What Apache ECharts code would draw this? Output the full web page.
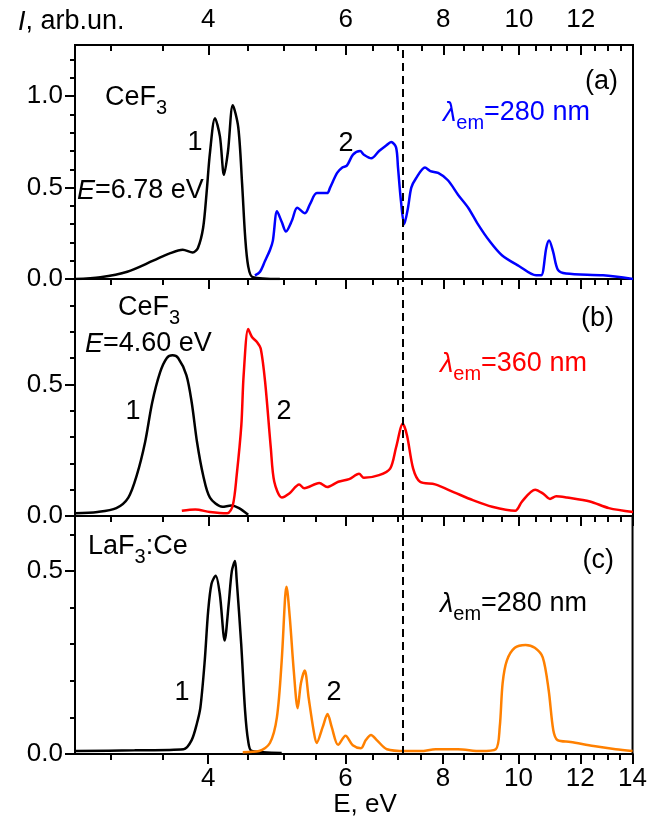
<!DOCTYPE html>
<html><head><meta charset="utf-8">
<script src="https://cdn.jsdelivr.net/npm/echarts@6/dist/echarts.min.js"></script>
<style>html,body{margin:0;padding:0;background:#fff}#c{width:650px;height:820px}</style>
</head><body><div id="c"></div>
<script>
// ---- axis definitions (energy in eV, log-scaled axis) ----
const xMinE = 2.7, xMaxE = 14;
const bottomLabelsE = [4, 6, 8, 10, 12, 14];
const topLabelsE = [4, 6, 8, 10, 12];
const majorTicksE = [4, 6, 8, 10, 12, 14];
const minorTicksE = [3, 3.5, 4.5, 5, 5.5, 6.5, 7, 7.5, 8.5, 9, 9.5, 10.5, 11, 11.5, 12.5, 13, 13.5];
const dashedLineE = 7.1;

const yMaxA = 1.28, yMaxB = 0.9, yMaxC = 0.65;
const yMajorA = [0, 0.5, 1.0], yMinorA = [0.1, 0.2, 0.3, 0.4, 0.6, 0.7, 0.8, 0.9, 1.1, 1.2];
const yMajorB = [0, 0.5], yMinorB = [0.1, 0.2, 0.3, 0.4, 0.6, 0.7, 0.8];
const yMajorC = [0, 0.5], yMinorC = [0.1, 0.2, 0.3, 0.4, 0.6];

// ---- data: [E (eV), intensity] ----
const aCurve1 = [[2.70,0.0],[2.91,0.01],[3.15,0.04],[3.40,0.10],[3.57,0.14],[3.71,0.16],[3.82,0.145],[3.88,0.17],[3.94,0.28],[3.98,0.47],[4.02,0.69],[4.08,0.88],[4.14,0.78],[4.19,0.57],[4.24,0.70],[4.30,0.95],[4.37,0.83],[4.42,0.52],[4.46,0.23],[4.50,0.07],[4.56,0.01],[4.94,0.0]];
const aCurve2 = [[4.59,0.02],[4.66,0.04],[4.73,0.10],[4.80,0.16],[4.84,0.21],[4.90,0.37],[4.97,0.31],[5.03,0.26],[5.12,0.32],[5.20,0.39],[5.32,0.36],[5.40,0.41],[5.51,0.47],[5.68,0.47],[5.73,0.50],[5.85,0.58],[5.94,0.61],[6.02,0.62],[6.13,0.68],[6.26,0.70],[6.33,0.68],[6.47,0.66],[6.62,0.70],[6.76,0.73],[6.86,0.75],[6.96,0.72],[7.00,0.61],[7.06,0.43],[7.13,0.30],[7.21,0.39],[7.28,0.50],[7.38,0.55],[7.58,0.61],[7.70,0.59],[7.88,0.58],[8.11,0.54],[8.36,0.46],[8.61,0.39],[8.86,0.30],[9.16,0.21],[9.51,0.13],[10.01,0.07],[10.52,0.02],[10.68,0.02],[10.84,0.17],[10.93,0.21],[11.06,0.15],[11.22,0.05],[11.49,0.03],[12.82,0.02],[14.0,0.0]];
const bCurve1 = [[2.70,0.01],[2.885,0.015],[3.05,0.03],[3.16,0.07],[3.24,0.155],[3.32,0.28],[3.39,0.43],[3.47,0.545],[3.54,0.60],[3.60,0.61],[3.66,0.60],[3.75,0.535],[3.81,0.43],[3.87,0.28],[3.94,0.155],[4.02,0.07],[4.17,0.035],[4.28,0.04],[4.38,0.03],[4.50,0.005]];
const bCurve2 = [[3.70,0.02],[3.85,0.025],[4.02,0.015],[4.23,0.01],[4.30,0.04],[4.35,0.155],[4.41,0.345],[4.44,0.535],[4.50,0.71],[4.55,0.68],[4.62,0.66],[4.67,0.635],[4.73,0.51],[4.81,0.26],[4.86,0.13],[4.97,0.07],[5.08,0.085],[5.23,0.12],[5.31,0.105],[5.55,0.125],[5.68,0.11],[5.87,0.13],[6.06,0.14],[6.24,0.16],[6.33,0.145],[6.62,0.155],[6.84,0.18],[6.96,0.26],[7.10,0.35],[7.19,0.305],[7.32,0.18],[7.47,0.13],[7.81,0.12],[8.26,0.09],[8.73,0.06],[9.24,0.035],[9.89,0.02],[10.09,0.055],[10.49,0.10],[10.74,0.085],[10.96,0.065],[11.16,0.075],[11.52,0.07],[12.33,0.055],[13.04,0.03],[14.0,0.015]];
const cCurve1 = [[2.70,0.008],[3.22,0.01],[3.72,0.013],[3.81,0.038],[3.87,0.084],[3.91,0.128],[3.96,0.255],[4.00,0.39],[4.04,0.465],[4.09,0.487],[4.14,0.437],[4.20,0.31],[4.25,0.41],[4.29,0.50],[4.33,0.527],[4.35,0.48],[4.41,0.30],[4.46,0.12],[4.50,0.038],[4.55,0.008],[4.97,0.003]];
const cCurve2 = [[4.43,0.005],[4.65,0.008],[4.80,0.03],[4.90,0.10],[4.97,0.255],[5.02,0.427],[5.04,0.457],[5.09,0.373],[5.15,0.228],[5.21,0.125],[5.26,0.193],[5.32,0.228],[5.38,0.155],[5.46,0.065],[5.51,0.03],[5.61,0.074],[5.69,0.109],[5.76,0.074],[5.87,0.025],[6.00,0.05],[6.13,0.024],[6.28,0.016],[6.37,0.038],[6.47,0.052],[6.58,0.038],[6.78,0.013],[7.17,0.008],[7.49,0.008],[7.83,0.013],[8.36,0.013],[8.94,0.008],[9.35,0.013],[9.46,0.074],[9.54,0.193],[9.66,0.255],[9.89,0.29],[10.21,0.298],[10.49,0.29],[10.74,0.264],[10.93,0.174],[11.08,0.065],[11.22,0.038],[11.66,0.033],[12.48,0.022],[13.32,0.013],[14.0,0.008]];

// ---- build chart ----
const FONT = '"Liberation Sans", Arial, sans-serif';
const AX = 26, TX = 27, SUB = 20;
const L = Math.log;
const chart = echarts.init(document.getElementById('c'));

const grids = [
  {left: 75, right: 17, top: 45, height: 234},
  {left: 75, right: 17, top: 279, height: 237},
  {left: 75, right: 17, top: 516, height: 238}
].map(g => Object.assign(g, {show: true, borderColor: '#000', borderWidth: 2, backgroundColor: 'transparent'}));

function xAx(gridIndex, position, ticksE, len, inside, labelsE) {
  return {
    type: 'value', gridIndex, position, offset: 0, min: L(xMinE), max: L(xMaxE),
    axisLine: {show: true, lineStyle: {color: '#000', width: 2}},
    axisTick: {show: true, inside, length: len, lineStyle: {color: '#000', width: 2}, customValues: ticksE.map(L)},
    axisLabel: labelsE ? {show: true, customValues: labelsE.map(L), formatter: v => String(Math.round(Math.exp(v))),
      color: '#000', fontSize: AX, fontFamily: FONT, margin: 12} : {show: false},
    splitLine: {show: false}
  };
}
function yAx(gridIndex, max, ticks, len, labels) {
  return {
    type: 'value', gridIndex, position: 'left', offset: 0, min: 0, max,
    axisLine: {show: true, lineStyle: {color: '#000', width: 2}},
    axisTick: {show: true, inside: false, length: len, lineStyle: {color: '#000', width: 2}, customValues: ticks},
    axisLabel: labels ? {show: true, customValues: ticks, formatter: v => v.toFixed(1),
      color: '#000', fontSize: AX, fontFamily: FONT, margin: 12} : {show: false},
    splitLine: {show: false}
  };
}

const xAxis = [
  xAx(0, 'bottom', majorTicksE, 10, false, null),
  xAx(0, 'bottom', minorTicksE, 6, false, null),
  xAx(0, 'top', majorTicksE, 10, true, topLabelsE),
  xAx(0, 'top', minorTicksE, 6, true, null),
  xAx(1, 'bottom', majorTicksE, 10, false, null),
  xAx(1, 'bottom', minorTicksE, 6, false, null),
  xAx(2, 'bottom', majorTicksE, 10, false, bottomLabelsE),
  xAx(2, 'bottom', minorTicksE, 6, false, null)
];
const yAxis = [
  yAx(0, yMaxA, yMajorA, 10, true), yAx(0, yMaxA, yMinorA, 5, false),
  yAx(1, yMaxB, yMajorB, 10, true), yAx(1, yMaxB, yMinorB, 5, false),
  yAx(2, yMaxC, yMajorC, 10, true), yAx(2, yMaxC, yMinorC, 5, false)
];

function line(data, color, xi, yi, mark) {
  const s = {
    type: 'line', xAxisIndex: xi, yAxisIndex: yi, showSymbol: false, smooth: 0.3,
    lineStyle: {color, width: 2.5}, itemStyle: {color},
    data: data.map(p => [L(p[0]), p[1]]), z: 3
  };
  if (mark) s.markLine = {silent: true, symbol: ['none', 'none'], label: {show: false},
    lineStyle: {type: [8, 5], color: '#000', width: 2}, data: [{xAxis: L(dashedLineE)}]};
  return s;
}

const series = [
  line(aCurve1, '#000000', 0, 0, true), line(aCurve2, '#0000ff', 0, 0, false),
  line(bCurve1, '#000000', 4, 2, true), line(bCurve2, '#ff0000', 4, 2, false),
  line(cCurve1, '#000000', 6, 4, true), line(cCurve2, '#ff8000', 6, 4, false)
];

const rich = (color) => ({
  n: {fontSize: TX, fontFamily: FONT, fill: color, color},
  i: {fontSize: TX, fontFamily: FONT, fontStyle: 'italic', fill: color, color},
  s: {fontSize: SUB, fontFamily: FONT, fill: color, color, padding: [20, 0, 0, 0]}
});
function txt(text, x, y, align, color, size) {
  color = color || '#000';
  return {type: 'text', z: 10, style: {text, x, y, align: align || 'left', verticalAlign: 'middle',
    fontSize: size || TX, fontFamily: FONT, fill: color, rich: rich(color)}};
}

const graphic = [
  txt('{i|I}{n|, arb.un.}', 18, 22, 'left'),
  txt('{n|CeF}{s|3}', 105, 98, 'left'),
  txt('1', 195, 143, 'center'),
  txt('{i|E}{n|=6.78 eV}', 77, 191, 'left'),
  txt('2', 346, 144, 'center'),
  txt('(a)', 618, 82, 'right'),
  txt('{i|λ}{s|em}{n|=280 nm}', 443, 113, 'left', '#0000ff'),
  txt('{n|CeF}{s|3}', 118, 308, 'left'),
  txt('{i|E}{n|=4.60 eV}', 85, 344, 'left'),
  txt('1', 133, 412, 'center'),
  txt('2', 284, 412, 'center'),
  txt('(b)', 614, 319, 'right'),
  txt('{i|λ}{s|em}{n|=360 nm}', 440, 364, 'left', '#ff0000'),
  txt('{n|LaF}{s|3}{n|:Ce}', 88, 547, 'left'),
  txt('1', 182, 693, 'center'),
  txt('2', 334, 693, 'center'),
  txt('(c)', 614, 561, 'right'),
  txt('{i|λ}{s|em}{n|=280 nm}', 440, 604, 'left', '#000'),
  txt('E, eV', 365, 805, 'center', '#000', AX)
];

chart.setOption({
  animation: false, backgroundColor: '#fff',
  grid: grids, xAxis, yAxis, series, graphic
});
</script></body></html>
